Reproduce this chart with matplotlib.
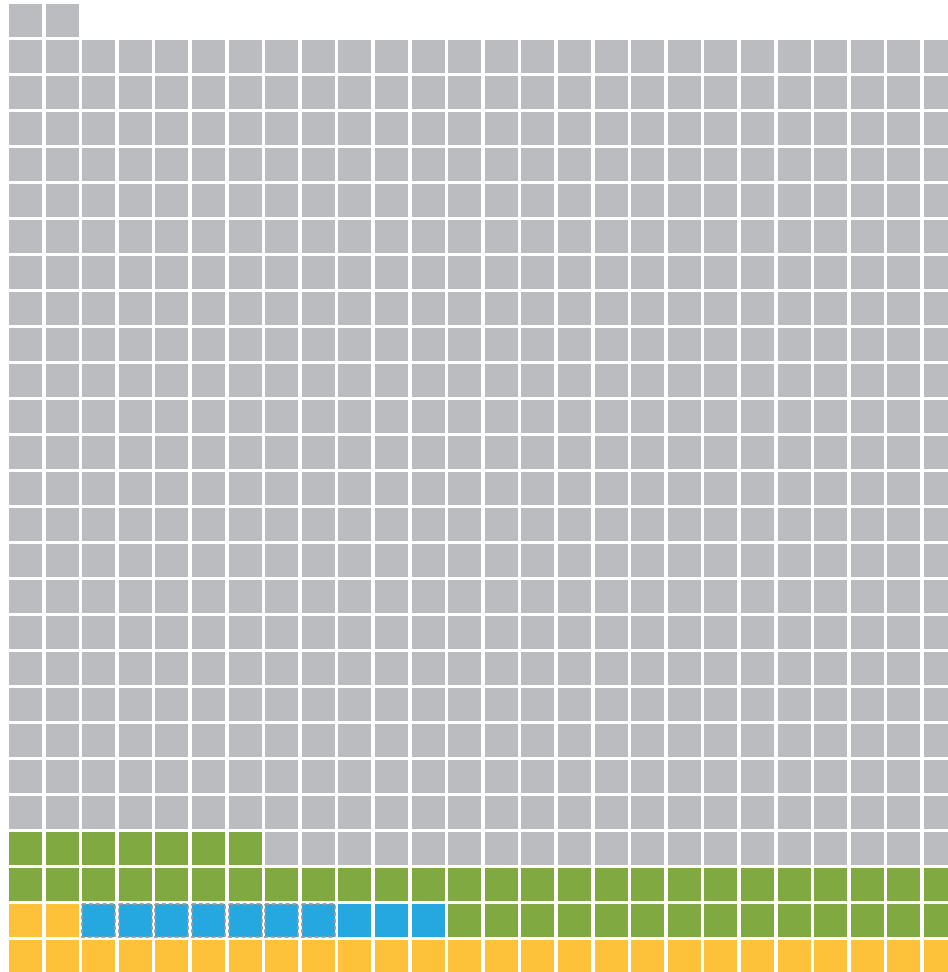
import matplotlib
matplotlib.use("Agg")
import matplotlib.pyplot as plt
from matplotlib.patches import Rectangle

# waffle data: cells per category, filled bottom-up, left to right
categories = ["yellow", "blue (outlined)", "blue", "green", "grey"]
counts = [28, 7, 3, 47, 593]
colors = ["#FEC23A", "#25A7E0", "#25A7E0", "#80AA41", "#BBBCC0"]
outlined = [False, True, False, False, False]

ncols = 26
nrows = 27

fig = plt.figure(figsize=(9.48, 9.72), dpi=100)
ax = fig.add_axes([0, 0, 1, 1])

# pixel pitch: 36.6 px per column, 36 px per row, cell ~33 px
xpitch, ypitch = 36.6, 36.0
cw, ch = 33 / xpitch, 33 / ypitch

cell = 0
for name, n, c, dash in zip(categories, counts, colors, outlined):
    for _ in range(n):
        row = nrows - 1 - cell // ncols   # row index from top
        col = cell % ncols
        if dash:
            ax.add_patch(Rectangle((col, row), cw, ch, facecolor=c,
                                   edgecolor="#9c9c9c", linewidth=1.3,
                                   linestyle=(0, (2.2, 1.6))))
        else:
            ax.add_patch(Rectangle((col, row), cw, ch, facecolor=c,
                                   edgecolor="none"))
        cell += 1

x0 = -9 / xpitch
y0 = -4 / ypitch
ax.set_xlim(x0, x0 + 948 / xpitch)
ax.set_ylim(y0 + 972 / ypitch, y0)
ax.axis("off")

fig.savefig("out.png", dpi=100)
